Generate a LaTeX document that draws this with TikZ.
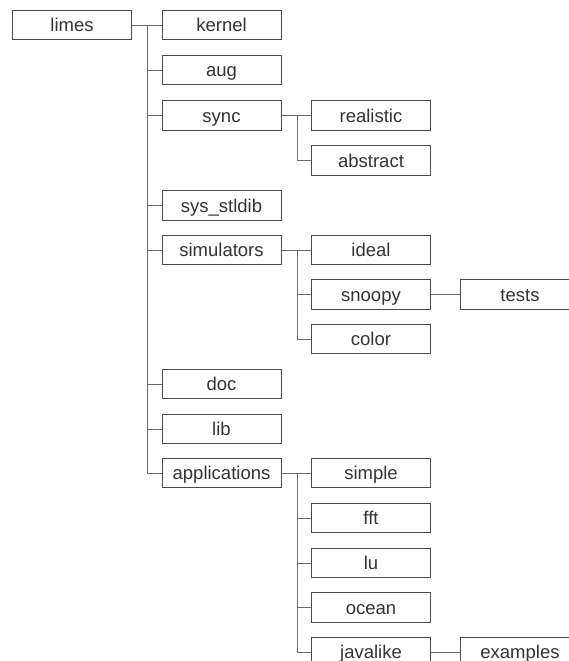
\documentclass[tikz,border=0pt]{standalone}
\usepackage{fontspec}
\setmainfont{Liberation Sans}
\definecolor{boxc}{HTML}{4A4A4A}
\definecolor{linec}{HTML}{6A6A6A}
\definecolor{txtc}{HTML}{333333}
\begin{document}
\begin{tikzpicture}[x=1pt,y=-1pt,
  dirbox/.style={draw=boxc,line width=0.9pt,rectangle,minimum width=119pt,minimum height=29.5pt,inner sep=0pt,text height=16pt,text depth=2.6pt,text=txtc,font=\fontsize{18.5}{20}\selectfont,fill=white},
  conn/.style={draw=linec,line width=0.9pt}]
\useasboundingbox (0,0) rectangle (568,661);
% column centres
\def\ca{72}\def\cb{221.5}\def\cc{371}\def\cd{520}
\node[dirbox] (limes) at (\ca,25) {limes};
\node[dirbox] (kernel) at (\cb,25) {kernel};
\node[dirbox] (aug) at (\cb,70) {aug};
\node[dirbox] (sync) at (\cb,115.5) {sync};
\node[dirbox] (realistic) at (\cc,115.5) {realistic};
\node[dirbox] (abstract) at (\cc,160.5) {abstract};
\node[dirbox] (sysstldib) at (\cb,205.5) {sys\_stldib};
\node[dirbox] (simulators) at (\cb,250) {simulators};
\node[dirbox] (ideal) at (\cc,250) {ideal};
\node[dirbox] (snoopy) at (\cc,294.5) {snoopy};
\node[dirbox] (tests) at (\cd,294.5) {tests};
\node[dirbox] (color) at (\cc,339) {color};
\node[dirbox] (doc) at (\cb,384) {doc};
\node[dirbox] (lib) at (\cb,429) {lib};
\node[dirbox] (applications) at (\cb,473) {applications};
\node[dirbox] (simple) at (\cc,473) {simple};
\node[dirbox] (fft) at (\cc,518) {fft};
\node[dirbox] (lu) at (\cc,563) {lu};
\node[dirbox] (ocean) at (\cc,607.5) {ocean};
\node[dirbox] (javalike) at (\cc,652) {javalike};
\node[dirbox] (examples) at (\cd,652) {examples};
% trunks
\coordinate (ta) at (147,25);
\coordinate (tb) at (297,115.5);
\coordinate (tc) at (297,250);
\coordinate (td) at (297,473);
% limes
\draw[conn] (limes.east) -- (kernel.west);
\draw[conn] (ta) |- (applications.west);
\foreach \n in {aug,sync,sysstldib,simulators,doc,lib}
  \draw[conn] (ta |- \n.west) -- (\n.west);
% sync
\draw[conn] (sync.east) -- (realistic.west);
\draw[conn] (tb) |- (abstract.west);
% simulators
\draw[conn] (simulators.east) -- (ideal.west);
\draw[conn] (tc) |- (color.west);
\draw[conn] (tc |- snoopy.west) -- (snoopy.west);
\draw[conn] (snoopy.east) -- (tests.west);
% applications
\draw[conn] (applications.east) -- (simple.west);
\draw[conn] (td) |- (javalike.west);
\foreach \n in {fft,lu,ocean}
  \draw[conn] (td |- \n.west) -- (\n.west);
\draw[conn] (javalike.east) -- (examples.west);
\end{tikzpicture}
\end{document}
